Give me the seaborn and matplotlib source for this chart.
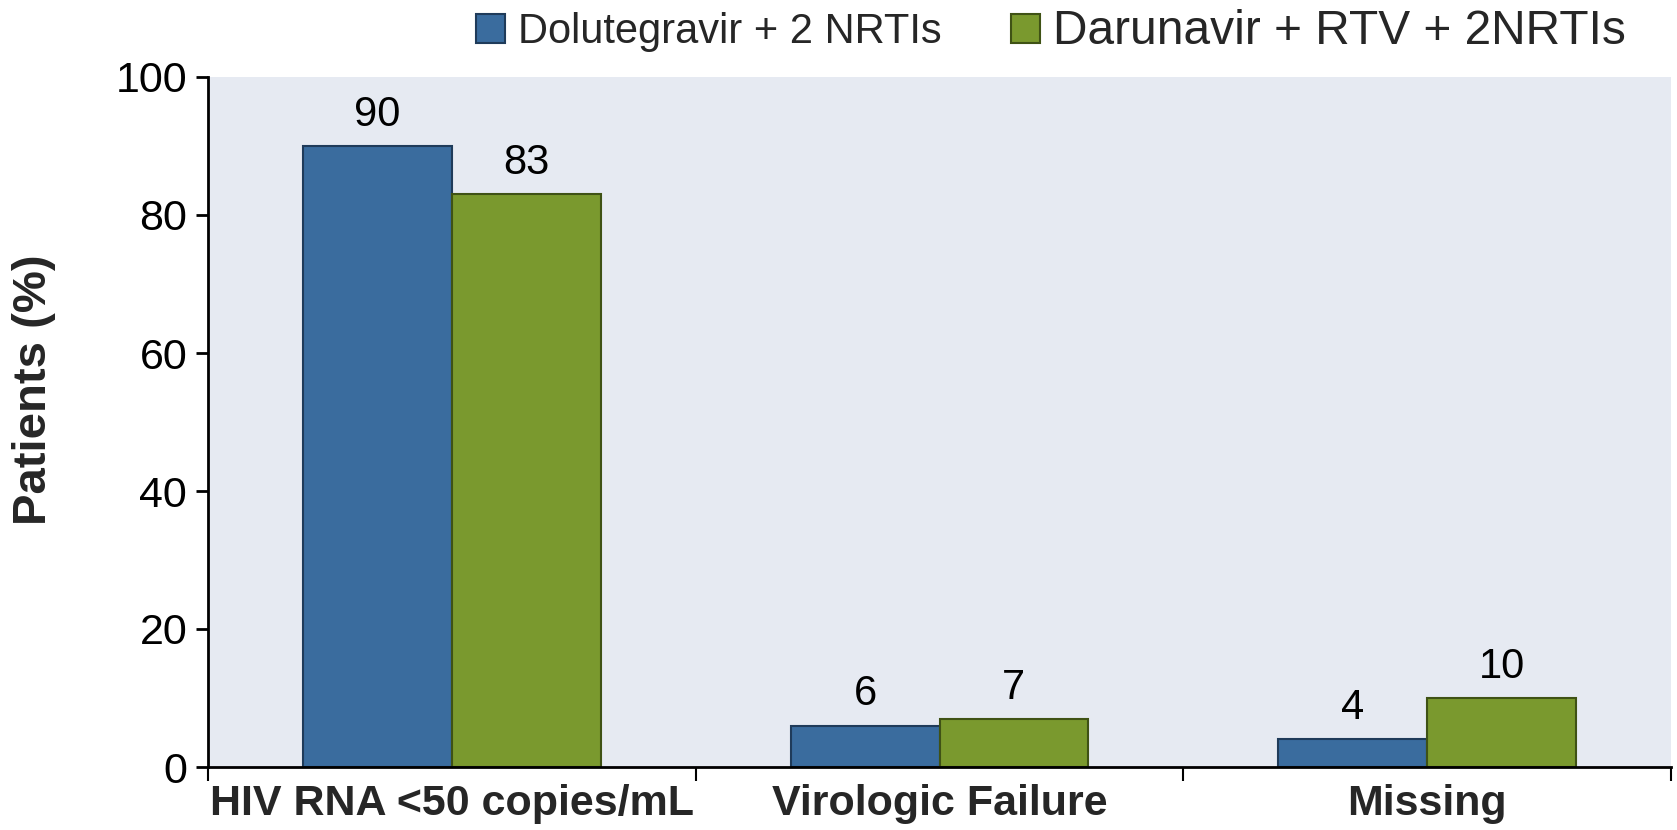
import matplotlib
matplotlib.use("Agg")
import matplotlib.pyplot as plt
import seaborn as sns
import pandas as pd

categories = ["HIV RNA <50 copies/mL", "Virologic Failure", "Missing"]
series_names = ["Dolutegravir + 2 NRTIs", "Darunavir + RTV + 2NRTIs"]
dolutegravir = [90, 6, 4]
darunavir = [83, 7, 10]
y_ticks = [0, 20, 40, 60, 80, 100]

colors = ["#3A6C9E", "#7A992E"]
edges = ["#1F3B5A", "#3F5215"]

sns.set_theme(style="white")
plt.rcParams["font.family"] = ["Liberation Sans", "DejaVu Sans"]

rows = []
for c, a, b in zip(categories, dolutegravir, darunavir):
    rows.append({"cat": c, "series": series_names[0], "val": a})
    rows.append({"cat": c, "series": series_names[1], "val": b})
df = pd.DataFrame(rows)

fig = plt.figure(figsize=(16.77, 8.30), dpi=100)
ax = fig.add_axes([208/1677, 1-767/830, (1671-208)/1677, (767-77)/830])
ax.set_facecolor("#E6EAF2")

sns.barplot(data=df, x="cat", y="val", hue="series", order=categories,
            hue_order=series_names, palette=colors, width=0.61,
            saturation=1, ax=ax, legend=True)

for i, cont in enumerate(ax.containers):
    for p in cont:
        p.set_edgecolor(edges[i])
        p.set_linewidth(1.5)
    ax.bar_label(cont, labels=[f"{v:g}" for v in cont.datavalues],
                 padding=8, fontsize=30, color="black")

ax.set_ylim(0, 100)
ax.set_xlim(-0.5, 2.5)
ax.set_yticks(y_ticks)
ax.tick_params(axis="y", labelsize=31, length=9, width=2, direction="out",
               left=True, pad=6, colors="black")
ax.tick_params(axis="x", which="major", length=0, pad=12)
ax.set_xticks([-0.5, 0.5, 1.5, 2.5], minor=True)
ax.tick_params(axis="x", which="minor", length=10, width=1.5, direction="out",
               bottom=True, color="black")
for lbl in ax.get_xticklabels():
    lbl.set_fontsize(31)
    lbl.set_fontweight("bold")
ax.set_xlabel("")
ax.set_ylabel("Patients (%)", fontsize=34, fontweight="bold")
ax.yaxis.set_label_coords(-0.104, 0.547)

for s in ["top", "right"]:
    ax.spines[s].set_visible(False)
for s in ["left", "bottom"]:
    ax.spines[s].set_color("black")
    ax.spines[s].set_linewidth(2)

handles, labels = ax.get_legend_handles_labels()
ax.legend_.remove()
leg = fig.legend(handles, labels, loc="center left", bbox_to_anchor=(476/1677, 1-31/830),
                 ncol=2, frameon=False, fontsize=30, handlelength=0.7,
                 handleheight=0.7, handletextpad=0.3, columnspacing=1.68,
                 borderaxespad=0, borderpad=0)
leg.get_texts()[1].set_fontsize(34.5)
for h, e in zip(leg.legend_handles, edges):
    h.set_edgecolor(e)
    h.set_linewidth(1.5)

fig.savefig("out.png", dpi=100)
